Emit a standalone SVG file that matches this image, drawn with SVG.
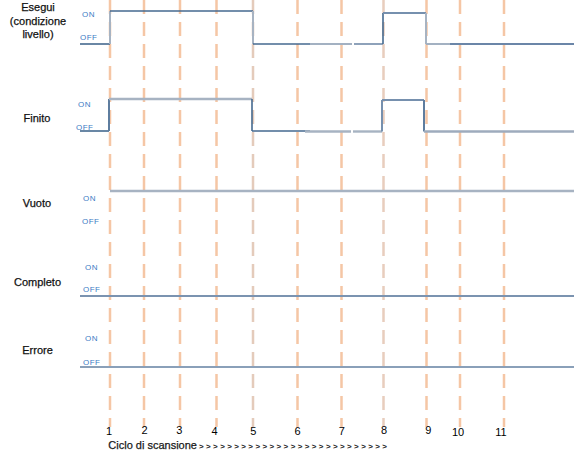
<svg xmlns="http://www.w3.org/2000/svg" width="574" height="457" viewBox="0 0 574 457">
<style>
.lbl{font-family:"Liberation Sans",Arial,sans-serif;font-size:11px;fill:#111;stroke:#111;stroke-width:0.25;text-anchor:middle}
.st{font-family:"Liberation Sans",Arial,sans-serif;font-size:8px;fill:#3d7bc4;letter-spacing:0.5px}
.num{font-family:"Liberation Sans",Arial,sans-serif;font-size:11px;fill:#000;text-anchor:middle}
.grid{stroke:#f5c6a5;stroke-width:2.5;stroke-dasharray:14 8;fill:none}
.dk{stroke:#44698f;stroke-width:1.6;fill:none}
.lt{stroke:#a7b3c2;stroke-width:2.4;fill:none}
.md{stroke:#7690ae;stroke-width:2;fill:none}
</style>
<rect width="574" height="457" fill="#fff"/>
<g id="grid">
<line class="grid" x1="110" y1="0" x2="110" y2="427"/>
<line class="grid" x1="144" y1="0" x2="144" y2="427"/>
<line class="grid" x1="180" y1="0" x2="180" y2="427"/>
<line class="grid" x1="216.5" y1="0" x2="216.5" y2="427"/>
<line class="grid" x1="253" y1="0" x2="253" y2="427" style="stroke:#e4cbbb"/>
<line class="grid" x1="297.5" y1="0" x2="297.5" y2="427"/>
<line class="grid" x1="341.5" y1="0" x2="341.5" y2="427"/>
<line class="grid" x1="383.5" y1="0" x2="383.5" y2="427" style="stroke:#e8cdbd"/>
<line class="grid" x1="426.5" y1="0" x2="426.5" y2="427"/>
<line class="grid" x1="460" y1="0" x2="460" y2="427"/>
<line class="grid" x1="504" y1="0" x2="504" y2="427"/>
</g>
<g id="connectors">
<line class="dk" x1="80" y1="44" x2="110" y2="44"/>
<line class="lt" x1="110" y1="11" x2="110" y2="44" style="stroke-width:2"/>
<line class="dk" x1="110" y1="11" x2="253" y2="11"/>
<line class="lt" x1="253" y1="11" x2="253" y2="44" style="stroke-width:2"/>
<line class="dk" x1="253" y1="44" x2="310" y2="44"/>
<line class="md" x1="310" y1="44" x2="352" y2="44" style="stroke:#a3b1c2"/>
<line class="md" x1="354" y1="44" x2="383" y2="44" style="stroke:#8ea2ba"/>
<line class="dk" x1="383" y1="13" x2="383" y2="44"/>
<line class="md" x1="383" y1="13" x2="426" y2="13"/>
<line class="lt" x1="426" y1="13" x2="426" y2="44" style="stroke-width:2"/>
<line class="md" x1="426" y1="44" x2="450" y2="44" style="stroke:#a3b1c2"/>
<line class="md" x1="450" y1="44" x2="574" y2="44" style="stroke:#6b86a8"/>
<line class="dk" x1="80" y1="131" x2="109" y2="131"/>
<line class="md" x1="109" y1="99" x2="109" y2="131" style="stroke:#5e7d9f"/>
<line class="lt" x1="109" y1="99" x2="252" y2="99"/>
<line class="dk" x1="252" y1="99" x2="252" y2="131"/>
<line class="dk" x1="252" y1="131" x2="310" y2="131"/>
<line class="lt" x1="305" y1="131.5" x2="351" y2="131.5"/>
<line class="lt" x1="353" y1="131.5" x2="382" y2="131.5"/>
<line class="md" x1="382" y1="100" x2="382" y2="131.5"/>
<line class="md" x1="382" y1="100" x2="424" y2="100"/>
<line class="md" x1="424" y1="100" x2="424" y2="131.5" style="stroke:#5e7d9f"/>
<line class="lt" x1="424" y1="131.5" x2="574" y2="131.5" style="stroke:#9eabbd"/>
<line class="lt" x1="110" y1="191" x2="574" y2="191"/>
<line class="md" x1="80" y1="296" x2="574" y2="296" style="stroke:#7b93b0"/>
<line class="md" x1="80" y1="367" x2="574" y2="367" style="stroke:#8aa0b9"/>
</g>
<g id="esegui">
<text class="lbl" x="38" y="11">Esegui</text>
<text class="lbl" x="38" y="25">(condizione</text>
<text class="lbl" x="38" y="38">livello)</text>
<text class="st" x="82" y="17">ON</text>
<text class="st" x="80" y="40">OFF</text>
</g>
<g id="finito">
<text class="lbl" x="37" y="122">Finito</text>
<text class="st" x="78" y="107">ON</text>
<text class="st" x="76" y="130">OFF</text>
</g>
<g id="vuoto">
<text class="lbl" x="37" y="207">Vuoto</text>
<text class="st" x="83" y="201">ON</text>
<text class="st" x="82" y="224">OFF</text>
</g>
<g id="completo">
<text class="lbl" x="37.5" y="286">Completo</text>
<text class="st" x="85" y="270">ON</text>
<text class="st" x="83" y="292">OFF</text>
</g>
<g id="errore">
<text class="lbl" x="37.5" y="354">Errore</text>
<text class="st" x="85" y="341">ON</text>
<text class="st" x="83" y="365">OFF</text>
</g>
<g id="axis">
<text class="num" x="109" y="435">1</text>
<text class="num" x="144.5" y="434">2</text>
<text class="num" x="179.3" y="434">3</text>
<text class="num" x="214.5" y="435">4</text>
<text class="num" x="253.3" y="435">5</text>
<text class="num" x="297.5" y="435">6</text>
<text class="num" x="341.7" y="435">7</text>
<text class="num" x="384" y="434">8</text>
<text class="num" x="428.3" y="434">9</text>
<text class="num" x="458" y="436">10</text>
<text class="num" x="501" y="436">11</text>
<text x="108.3" y="449" style="font-family:'Liberation Sans',Arial,sans-serif;font-size:11px;fill:#1a1a1a;stroke:#1a1a1a;stroke-width:0.25">Ciclo di scansione</text>
<text x="199" y="449" textLength="188" lengthAdjust="spacing" style="font-family:'Liberation Sans',Arial,sans-serif;font-size:8px;font-weight:bold;fill:#1a1a1a">&gt;&gt;&gt;&gt;&gt;&gt;&gt;&gt;&gt;&gt;&gt;&gt;&gt;&gt;&gt;&gt;&gt;&gt;&gt;&gt;&gt;&gt;&gt;&gt;&gt;&gt;&gt;</text>
</g>
</svg>
